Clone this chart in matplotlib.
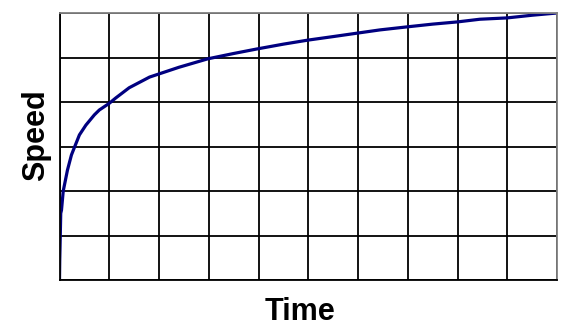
import matplotlib as mpl
mpl.use('Agg')
import matplotlib.pyplot as plt

# curve (time in grid columns, speed in grid rows)
time = [0, 0.005, 0.01, 0.025, 0.04, 0.075, 0.16, 0.24, 0.30, 0.40, 0.53, 0.70, 0.80,
        1.0, 1.13, 1.4, 1.81, 2.4, 2.98, 3.5, 3.96, 4.5, 4.99, 5.5, 6.0, 6.44, 7.0,
        7.5, 8.0, 8.45, 9.0, 9.5, 10.0]
speed = [0, 0.45, 0.7, 1.5, 1.57, 2.0, 2.47, 2.81, 2.98, 3.26, 3.48, 3.71, 3.82,
         3.97, 4.09, 4.32, 4.56, 4.78, 4.97, 5.09, 5.19, 5.30, 5.39, 5.47, 5.55, 5.62, 5.69,
         5.75, 5.80, 5.86, 5.89, 5.95, 6.0]

plt.rcParams['font.family'] = ['Liberation Sans', 'DejaVu Sans']

fig = plt.figure(figsize=(5.75, 3.34), dpi=100)
ax = fig.add_axes([59.5 / 575, 54 / 334, 497.5 / 575, 267 / 334])

ax.plot(time, speed, color='#000080', lw=2.3, solid_capstyle='butt')

ax.set_xlim(0, 10)
ax.set_ylim(0, 6)
ax.set_xticks(range(0, 11))
ax.set_yticks(range(0, 7))
ax.grid(True, color='black', lw=1.3)
ax.tick_params(length=0, labelbottom=False, labelleft=False)
for side in ['left', 'bottom']:
    ax.spines[side].set_color('black')
    ax.spines[side].set_linewidth(1.3)
for side in ['top', 'right']:
    ax.spines[side].set_color('#808080')
    ax.spines[side].set_linewidth(1.3)

fig.text(300 / 575, 1 - 320 / 334, 'Time', ha='center', va='baseline',
         fontsize=22, fontweight='bold')
fig.text(44 / 575, 1 - 135 / 334, 'Speed', ha='center', va='baseline',
         rotation=90, rotation_mode='anchor', fontsize=22, fontweight='bold')

plt.savefig('out.png', dpi=100)
